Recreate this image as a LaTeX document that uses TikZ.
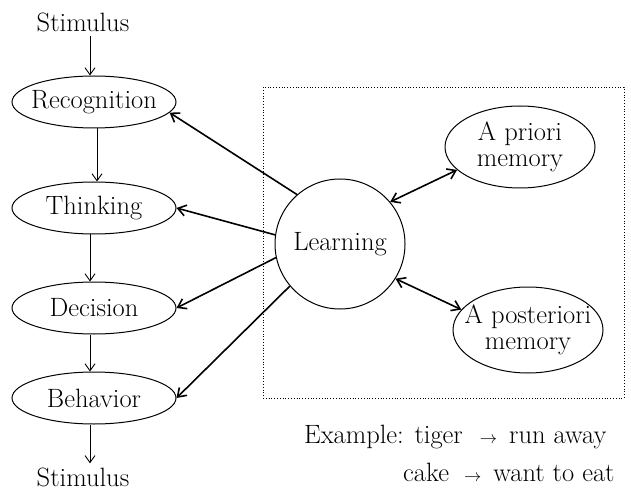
\documentclass[tikz,border=0pt]{standalone}
\usetikzlibrary{arrows.meta,shapes.geometric}
\newcommand{\smallarr}{{\fontsize{18}{20}\selectfont$\rightarrow$}}
\begin{document}
\begin{tikzpicture}[x=1pt,y=-1pt,
  every node/.style={font=\fontsize{26.5}{30}\selectfont, inner sep=0pt},
  ell/.style={draw, ellipse, line width=1pt, inner xsep=-6pt, minimum width=164pt, minimum height=52pt},
  mem/.style={draw, ellipse, line width=1pt, inner xsep=-20pt, inner ysep=-2pt, minimum width=150pt, minimum height=82pt, align=center},
  thin arrow/.style={line width=0.9pt, -{Straight Barb[length=7pt,width=10pt]}},
  thick arrow/.style={line width=1.6pt, -{Straight Barb[length=8pt,width=11pt]}},
  both arrow/.style={line width=1.6pt, {Straight Barb[length=8pt,width=11pt]}-{Straight Barb[length=8pt,width=11pt]}}]
\useasboundingbox (0,0) rectangle (631,494);
\node (st1) at (83,22) {Stimulus};
\node[ell] (rec) at (94,102) {Recognition};
\node[ell] (thk) at (94,208) {Thinking};
\node[ell] (dec) at (94,308) {Decision};
\node[ell] (beh) at (94,398) {Behavior};
\node (st2) at (83,477) {Stimulus};
\node[draw, dotted, line width=0.8pt, minimum width=361pt, minimum height=311pt] (box) at (443.5,242.5) {};
\node[draw, circle, line width=1pt, minimum size=130pt] (lrn) at (340,244) {Learning};
\node[mem] (apr) at (520,147) {A priori\\[-4pt]memory};
\node[mem, minimum height=86pt] (aps) at (528,330) {A posteriori\\[-4pt]memory};
\node[anchor=west] (ex1) at (304,437) {Example: tiger\hspace{17pt}\smallarr\hspace{12pt}run away};
\node[anchor=west] (ex2) at (403,472) {cake\hspace{15pt}\smallarr\hspace{12pt}want to eat};
\draw[thin arrow] ([xshift=-4pt,yshift=-4pt]rec.north |- st1.south) -- ([xshift=-4pt]rec.north);
\draw[thin arrow] ([xshift=3pt]rec.south) -- ([xshift=3pt]thk.north);
\draw[thin arrow] ([xshift=-4pt]thk.south) -- ([xshift=-4pt]dec.north);
\draw[thin arrow] ([xshift=-4pt]dec.south) -- ([xshift=-4pt]beh.north);
\draw[thin arrow] ([xshift=-4pt]beh.south) -- ([xshift=-4pt,yshift=4pt]beh.south |- st2.north);
\draw[thick arrow] (lrn.131) -- (rec.-8);
\draw[thick arrow] (lrn.172) -- (thk.east);
\draw[thick arrow] (lrn.192) -- (dec.east);
\draw[thick arrow] (lrn.220) -- (beh.east);
\draw[both arrow] (lrn.40) -- (apr.200);
\draw[both arrow] (lrn.-32) -- (aps.163);
\end{tikzpicture}
\end{document}
